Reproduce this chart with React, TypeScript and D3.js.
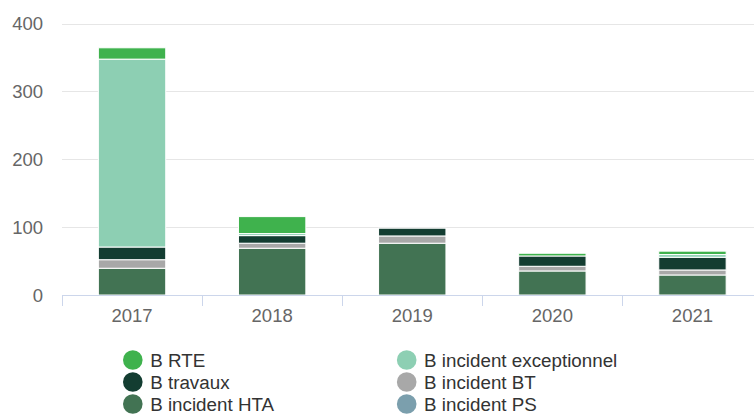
import React from "react";
import * as d3 from "d3";

const categories = ["2017", "2018", "2019", "2020", "2021"];
const seriesNames = [
  "B RTE",
  "B incident exceptionnel",
  "B travaux",
  "B incident BT",
  "B incident HTA",
  "B incident PS",
];
const seriesColors = ["#3fb24d", "#8dcfb3", "#133d31", "#a8a8a8", "#427353", "#7b9fad"];
const rte = [16.7, 25, 0, 4, 5];
const exceptionnel = [276.8, 3, 0, 0, 4];
const travaux = [18.7, 11.2, 11.4, 15.2, 18.7];
const incidentBT = [12.6, 7.4, 10.7, 6.9, 7.4];
const incidentHTA = [39.4, 68.9, 76.3, 35.4, 29.5];
const incidentPS = [0, 0, 0, 0, 0];
const yTicks = [0, 100, 200, 300, 400];

const seriesValues = [rte, exceptionnel, travaux, incidentBT, incidentHTA, incidentPS];

const W = 754;
const H = 414;
const FONT = "'Liberation Sans', Arial, Helvetica, sans-serif";

export default function App() {
  const plotLeft = 62;
  const bandW = 140.1;
  const plotRight = plotLeft + bandW * categories.length;
  const x = d3.scaleBand<string>().domain(categories).range([plotLeft, plotRight]).padding(0);
  const y = d3.scaleLinear().domain([0, 400]).range([295, 23.5]);
  const barW = x.bandwidth() * 0.481;

  const rows = categories.map((c, i) => {
    const r: any = { cat: c };
    seriesNames.forEach((n, s) => (r[n] = seriesValues[s][i]));
    return r;
  });
  const stackOrder = [...seriesNames].reverse();
  const stacked = d3.stack<any>().keys(stackOrder)(rows);

  return (
    <svg width={W} height={H} style={{ position: "absolute", left: 0, top: 0 }} fontFamily={FONT}>
      <rect width={W} height={H} fill="#ffffff" />
      {yTicks.map((t) => (
        <g key={t}>
          {t !== 0 && (
            <line x1={plotLeft} x2={W} y1={Math.round(y(t)) + 0.5} y2={Math.round(y(t)) + 0.5} stroke="#e6e6e6" strokeWidth={1} />
          )}
          <text x={43} y={y(t) + 6.6} textAnchor="end" fontSize={18.5} fill="#666666">
            {t}
          </text>
        </g>
      ))}
      {stacked.map((layer) => {
        const sIdx = seriesNames.indexOf(layer.key);
        return (
          <g key={layer.key}>
            {layer.map((d, i) => {
              const v = d[1] - d[0];
              if (v <= 0) return null;
              const cx = (x(categories[i]) as number) + x.bandwidth() / 2;
              const y0 = y(d[0]);
              const y1 = y(d[1]);
              return (
                <rect
                  key={i}
                  x={cx - barW / 2}
                  y={y1}
                  width={barW}
                  height={y0 - y1}
                  fill={seriesColors[sIdx]}
                  stroke="#ffffff"
                  strokeWidth={1}
                />
              );
            })}
          </g>
        );
      })}
      <line x1={plotLeft} x2={W} y1={295.5} y2={295.5} stroke="#ccd6eb" strokeWidth={1} />
      {categories.map((c) => (
        <line
          key={"t" + c}
          x1={Math.round(x(c) as number) + 0.5}
          x2={Math.round(x(c) as number) + 0.5}
          y1={295}
          y2={306}
          stroke="#ccd6eb"
          strokeWidth={1}
        />
      ))}
      {categories.map((c) => (
        <text
          key={"l" + c}
          x={(x(c) as number) + x.bandwidth() / 2}
          y={322.3}
          textAnchor="middle"
          fontSize={18.5}
          fill="#666666"
        >
          {c}
        </text>
      ))}
      {seriesNames.map((n, i) => {
        const col = i % 2;
        const row = Math.floor(i / 2);
        const cx = col === 0 ? 132.8 : 406.7;
        const cy = 360 + row * 22;
        return (
          <g key={"lg" + n}>
            <circle cx={cx} cy={cy} r={9.8} fill={seriesColors[i]} />
            <text x={cx + 17.4} y={cy + 6.8} fontSize={18.8} fill="#333333">
              {n}
            </text>
          </g>
        );
      })}
    </svg>
  );
}
